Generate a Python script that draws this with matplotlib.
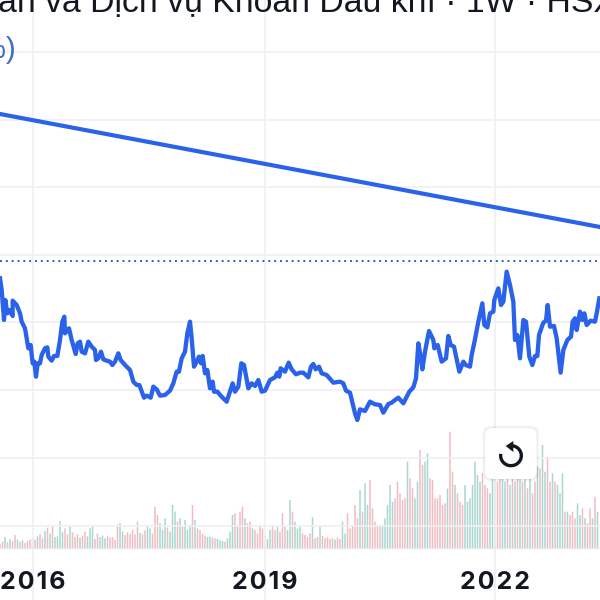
import numpy as np
import matplotlib
matplotlib.use("Agg")
import matplotlib.pyplot as plt
from matplotlib.patches import FancyBboxPatch, Arc, Polygon

# time axis is in chart steps, price in chart units (no scale is shown)
title = "Khoan và Dịch vụ Khoan Dầu khí · 1W · HSX"
legend_tail = "%)"
year_labels = ["2016", "2019", "2022"]
year_pos = [99, 795, 1485]

line_t = [0, 5, 12, 16, 22, 28, 38, 38, 50, 60, 65, 75, 85, 92, 98, 103, 108, 113, 120, 125,
          135, 142, 145, 155, 162, 172, 180, 187, 193, 195, 207, 215, 227, 233, 240, 245, 255, 265, 275, 285,
          288, 295, 303, 310, 320, 330, 337, 345, 355, 362, 375, 390, 400, 410, 418, 432, 440, 452, 460, 470,
          480, 495, 510, 520, 530, 537, 545, 555, 562, 570, 575, 582, 590, 597, 603, 608, 615, 622, 630, 638,
          642, 652, 665, 680, 690, 698, 705, 715, 724, 732, 745, 755, 765, 775, 785, 795, 810, 825, 832, 838,
          842, 855, 866, 875, 888, 900, 910, 925, 933, 940, 947, 957, 965, 980, 1000, 1020, 1030, 1038, 1050, 1065,
          1072, 1080, 1095, 1110, 1125, 1140, 1150, 1165, 1175, 1185, 1195, 1210, 1228, 1240, 1248, 1255, 1262, 1267, 1275, 1287,
          1300, 1303, 1313, 1325, 1338, 1345, 1352, 1362, 1378, 1390, 1397, 1410, 1415, 1425, 1435, 1447, 1453, 1462, 1470, 1480,
          1483, 1495, 1503, 1510, 1520, 1530, 1540, 1545, 1552, 1560, 1570, 1578, 1588, 1597, 1605, 1612, 1617, 1630, 1638, 1643,
          1650, 1662, 1670, 1682, 1690, 1702, 1713, 1718, 1725, 1730, 1740, 1747, 1753, 1760, 1772, 1785, 1790, 1798]
line_v = [915, 880, 790, 850, 810, 820, 802, 848, 835, 810, 785, 765, 705, 715, 660, 665, 620, 660, 660, 685,
          705, 708, 680, 668, 682, 682, 730, 785, 800, 750, 765, 730, 688, 720, 725, 695, 690, 725, 710, 700,
          670, 675, 695, 672, 668, 665, 655, 665, 690, 670, 655, 640, 605, 595, 595, 557, 563, 557, 590, 582,
          563, 565, 578, 600, 635, 635, 675, 695, 750, 785, 735, 650, 665, 680, 660, 682, 630, 640, 585, 605,
          575, 575, 560, 545, 575, 600, 575, 590, 660, 655, 585, 600, 592, 610, 575, 578, 610, 618, 632, 620,
          645, 635, 662, 642, 627, 632, 632, 618, 650, 658, 642, 650, 630, 625, 602, 605, 600, 578, 572, 510,
          490, 522, 517, 545, 537, 535, 512, 538, 542, 550, 557, 540, 575, 588, 615, 720, 680, 642, 695, 757,
          730, 705, 715, 665, 675, 742, 715, 710, 635, 665, 655, 650, 685, 732, 785, 840, 775, 768, 810, 815,
          850, 885, 835, 845, 935, 895, 845, 730, 745, 675, 790, 785, 680, 655, 682, 682, 745, 782, 788, 835,
          770, 772, 735, 632, 700, 730, 740, 785, 795, 760, 815, 790, 810, 775, 788, 785, 810, 855]

# one chunk per row, 12 bars each
volume = [12, 20, 34, 18, 28, 22, 40, 26, 20, 24, 16, 22,
          26, 32, 26, 36, 42, 30, 52, 62, 44, 68, 34, 36,
          82, 48, 60, 42, 66, 48, 34, 42, 32, 38, 50, 36,
          60, 68, 28, 44, 34, 38, 30, 36, 32, 34, 26, 72,
          75, 50, 40, 48, 44, 56, 42, 80, 46, 42, 54, 66,
          60, 44, 125, 100, 75, 55, 90, 62, 50, 130, 110, 80,
          90, 65, 85, 55, 70, 130, 85, 60, 55, 44, 38, 34,
          35, 32, 30, 28, 24, 22, 20, 30, 50, 100, 105, 70,
          110, 125, 90, 75, 80, 60, 55, 44, 67, 60, 38, 28,
          55, 70, 55, 65, 50, 105, 65, 55, 145, 110, 80, 60,
          65, 44, 40, 34, 45, 93, 30, 34, 65, 38, 30, 34,
          28, 30, 26, 32, 28, 80, 44, 105, 60, 70, 130, 90,
          175, 110, 195, 130, 205, 120, 80, 70, 65, 70, 90, 130,
          190, 140, 150, 200, 165, 145, 150, 260, 210, 180, 150, 200,
          295, 250, 260, 285, 210, 205, 150, 150, 160, 130, 135, 180,
          350, 230, 190, 165, 140, 130, 190, 140, 150, 190, 260, 220,
          200, 225, 190, 180, 165, 220, 240, 200, 220, 230, 200, 210,
          190, 220, 200, 230, 210, 200, 225, 180, 220, 165, 200, 245,
          240, 310, 230, 275, 200, 225, 200, 190, 165, 225, 110, 110,
          100, 110, 90, 135, 100, 120, 90, 75, 120, 90, 155, 110]
# g = week closed up, r = week closed down
direction = ("rrgrgrrgrgrr" "rrrgrrgrgrgg" "ggrrgrrrgrrg" "ggrrgggrrrrr"
             "ggrrrrrrgrrg" "grrrgggrgggr" "grgggrgrrrrg" "grrgggrgggrg"
             "rrgrrgrrrrrg" "grrgrrrggrgg" "grrrrgrrgrrr" "rrgrrggrrrrr"
             "grggrrrrrggg" "ggrrrrrgrrgg" "rrggrrrrrrrg" "rrgrrrgggggg"
             "grrrgggrrggr" "grgrgrgrgrrg" "rggrrgrgggrg" "rrrggrgrrgrg")
volume_t = np.arange(len(volume)) * 7.5

grid_y = [172, 376, 580, 784, 985, 1189, 1390, 1594]
trend_t = [0, 1800]
trend_v = [1408, 1069]
dotted_level = 967
base_level = 105

blue = "#2b62ea"
ink = "#131722"
grid_c = "#f0f0f3"

fig = plt.figure(figsize=(6, 6), dpi=100)
ax = fig.add_axes([0, 0, 1, 1])
ax.set_xlim(0, 1800)
ax.set_ylim(-50, 1750)
ax.axis("off")

for y in grid_y:
    ax.axhline(y, color=grid_c, lw=1.2, zorder=3)
for x in year_pos:
    ax.axvline(x, color=grid_c, lw=1.2, zorder=3)
ax.axhline(base_level, color="#e8e8ec", lw=1, zorder=3)

bar_colors = ["#a9d6ce" if d == "g" else "#eebcc3" for d in direction]
bars = ax.bar(volume_t, volume, width=4.5, bottom=base_level, color=bar_colors, zorder=2)
for b in bars:
    b.set_snap(False)

ax.axhline(dotted_level, color="#2f5fc4", lw=1.4, ls=(0, (1, 2)), zorder=4)
ax.plot(trend_t, trend_v, color=blue, lw=3.0, zorder=5)
ax.plot(line_t, line_v, color=blue, lw=3.1, solid_joinstyle="round", zorder=5)

ax.text(-186, 1713, title, fontsize=24.3, color=ink, family="Liberation Sans",
        ha="left", va="baseline", zorder=6, clip_on=False)
ax.text(48, 1600, legend_tail, fontsize=21, color="#3a6cc8", family="Liberation Sans",
        ha="right", va="center", zorder=6)
for lab, x in zip(year_labels, year_pos):
    ax.text(x, -17, "\u200a".join(lab), fontsize=18, color=ink, family=["Inter", "DejaVu Sans"],
            fontweight="bold", ha="center", va="baseline", zorder=6)

# reset button with the round arrow
for off, a in [(8, 0.025), (5, 0.03), (2, 0.04)]:
    ax.add_patch(FancyBboxPatch((1455 - off, 313 - off), 155 + 2 * off, 153 + 2 * off,
                                boxstyle="round,pad=0,rounding_size=24", fc="black", ec="none",
                                alpha=a, zorder=7))
ax.add_patch(FancyBboxPatch((1455, 313), 155, 153, boxstyle="round,pad=0,rounding_size=22",
                            fc="white", ec="none", zorder=8))
ax.add_patch(Arc((1533, 383), 62, 60, theta1=-190, theta2=92, color=ink, lw=2.4, zorder=9))
ax.add_patch(Polygon([[1517, 412], [1540, 427], [1540, 394]], closed=True, fc=ink, ec="none", zorder=9))

fig.savefig("out.png", dpi=100)
